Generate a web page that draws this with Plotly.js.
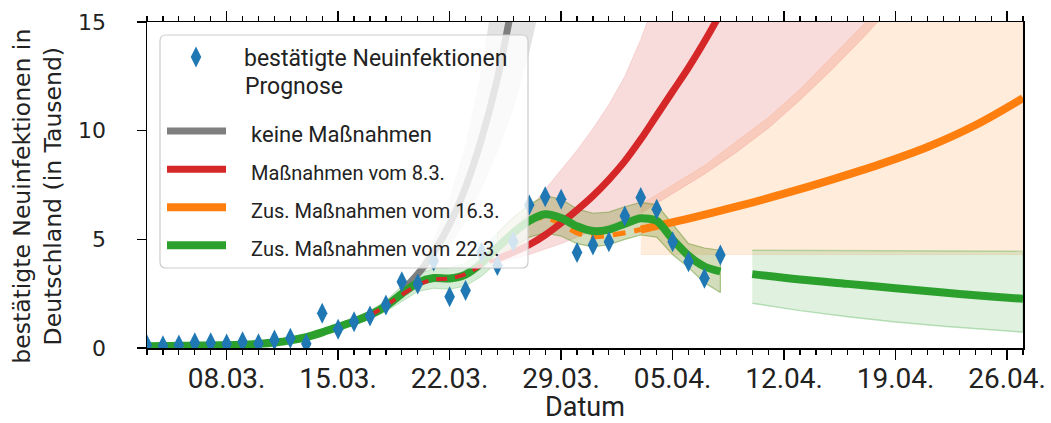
<!DOCTYPE html>
<html>
<head>
<meta charset="utf-8">
<script src="https://cdn.plot.ly/plotly-3.0.1.min.js"></script>
<style>html,body{margin:0;padding:0;background:#fff;}#chart{width:1051px;height:423px;}</style>
</head>
<body>
<div id="chart"></div>
<script>
// ---------- observed data (in thousands) ----------
const obsDates = ['2020-03-03','2020-03-04','2020-03-05','2020-03-06','2020-03-07','2020-03-08','2020-03-09','2020-03-10','2020-03-11','2020-03-12','2020-03-13','2020-03-14','2020-03-15','2020-03-16','2020-03-17','2020-03-18','2020-03-19','2020-03-20','2020-03-21','2020-03-22','2020-03-23','2020-03-24','2020-03-25','2020-03-26','2020-03-27','2020-03-28','2020-03-29','2020-03-30','2020-03-31','2020-04-01','2020-04-02','2020-04-03','2020-04-04','2020-04-05','2020-04-06','2020-04-07','2020-04-08'];
const obsCases = [0.14,0.1,0.14,0.24,0.24,0.18,0.29,0.2,0.37,0.45,0.2,1.6,0.86,1.21,1.47,1.98,3.05,2.95,4.0,2.36,2.64,4.4,3.8,4.9,6.58,6.96,6.84,4.39,4.74,4.89,6.07,6.93,6.38,4.89,3.97,3.21,4.28];

// ---------- green model fit (Zus. Maßnahmen vom 22.3.) ----------
const fitGreen     = [0.08,0.09,0.1,0.11,0.12,0.13,0.15,0.19,0.25,0.35,0.5,0.72,0.97,1.22,1.52,1.93,2.5,3.0,3.22,3.2,3.38,3.9,4.62,5.3,5.85,6.15,5.98,5.6,5.38,5.45,5.72,5.97,5.85,5.0,4.25,3.75,3.52];
const fitGreenLow  = [0.02,0.03,0.04,0.05,0.06,0.07,0.09,0.13,0.18,0.27,0.4,0.6,0.83,1.06,1.33,1.68,2.15,2.6,2.75,2.7,2.85,3.3,3.95,4.6,5.1,5.3,5.15,4.8,4.65,4.75,5.0,5.2,5.1,4.3,3.7,3.0,2.55];
const fitGreenHigh = [0.14,0.15,0.16,0.17,0.18,0.19,0.21,0.25,0.32,0.43,0.6,0.84,1.11,1.38,1.71,2.18,2.85,3.4,3.65,3.7,3.9,4.5,5.3,6.0,6.6,7.0,6.85,6.4,6.2,6.25,6.5,6.7,6.6,5.7,4.8,4.6,4.5];

// ---------- green forecast ----------
const greenFcDates = ['2020-04-10','2020-04-13','2020-04-16','2020-04-19','2020-04-22','2020-04-25','2020-04-27'];
const greenFc      = [3.4,3.15,2.95,2.75,2.55,2.37,2.26];
const greenFcHigh  = [4.5,4.49,4.48,4.47,4.46,4.45,4.45];
const greenFcLow   = [2.06,1.72,1.44,1.2,1.0,0.83,0.73];

// ---------- red model (Maßnahmen vom 8.3.) ----------
const redDashDates = ['2020-03-17','2020-03-18','2020-03-19','2020-03-20','2020-03-21','2020-03-22','2020-03-23','2020-03-24','2020-03-25'];
const redDash      = [1.5,1.95,2.45,2.9,3.15,3.2,3.4,3.8,4.1];
const redDates = ['2020-03-25','2020-03-26','2020-03-27','2020-03-28','2020-03-29','2020-03-30','2020-03-31','2020-04-01','2020-04-02','2020-04-03','2020-04-04','2020-04-05','2020-04-06','2020-04-07','2020-04-08','2020-04-09'];
const redFc    = [4.1,4.4,4.75,5.2,5.75,6.35,7.0,7.75,8.6,9.6,10.7,11.8,12.9,14.1,15.4,16.8];
const redHighDates = ['2020-03-25','2020-03-26','2020-03-27','2020-03-28','2020-03-29','2020-03-30','2020-03-31','2020-04-01','2020-04-02','2020-04-03','2020-04-04','2020-04-05'];
const redHigh      = [4.5,5.4,6.4,7.3,8.2,9.1,10.1,11.2,12.5,14.2,16.2,18.5];
const redLowDates  = ['2020-03-25','2020-03-27','2020-03-29','2020-03-31','2020-04-02','2020-04-03','2020-04-05','2020-04-07','2020-04-09','2020-04-11','2020-04-13','2020-04-15','2020-04-17','2020-04-19','2020-04-21'];
const redLow       = [3.9,4.3,4.8,5.4,5.9,6.2,7.1,8.0,9.0,10.1,11.4,12.8,14.3,15.9,17.7];

// ---------- orange model (Zus. Maßnahmen vom 16.3.) ----------
const orangeDashDates = ['2020-03-27','2020-03-28','2020-03-29','2020-03-30','2020-03-31','2020-04-01','2020-04-02','2020-04-03'];
const orangeDash      = [5.9,6.0,5.7,5.3,5.12,5.18,5.3,5.45];
const orangeDates = ['2020-04-03','2020-04-06','2020-04-09','2020-04-12','2020-04-15','2020-04-18','2020-04-21','2020-04-24','2020-04-27'];
const orangeFc    = [5.45,5.95,6.5,7.1,7.75,8.45,9.25,10.25,11.5];
const orangeHighDates = ['2020-04-03','2020-04-05','2020-04-07','2020-04-09','2020-04-11','2020-04-13','2020-04-15','2020-04-17','2020-04-19','2020-04-21','2020-04-27'];
const orangeHigh      = [6.6,7.5,8.4,9.5,10.6,11.9,13.4,14.9,16.6,18.5,25];
const orangeLowDates  = ['2020-04-03','2020-04-27'];
const orangeLow       = [4.3,4.3];

// ---------- grey model (keine Maßnahmen) ----------
const greyDates = ['2020-03-19','2020-03-20','2020-03-21','2020-03-22','2020-03-23','2020-03-24','2020-03-25','2020-03-26'];
const greyFc    = [2.62,3.4,4.4,5.7,7.4,9.6,12.4,16.1];
const greyHigh  = [2.62,3.6,5.0,6.9,9.4,12.8,17.5,24];
const greyLowDates = ['2020-03-19','2020-03-20','2020-03-21','2020-03-22','2020-03-23','2020-03-24','2020-03-25','2020-03-26','2020-03-27','2020-03-28'];
const greyLow      = [2.62,3.2,3.9,4.7,5.8,7.3,9.0,11.0,13.6,16.8];

// ---------- labels ----------
const xTitle = 'Datum';
const yTitle = 'bestätigte Neuinfektionen in&nbsp;&nbsp;&nbsp;<br>Deutschland (in Tausend)&nbsp;&nbsp;&nbsp;';
const legendNames = {
  data: 'bestätigte Neuinfektionen',
  header: 'Prognose',
  grey: 'keine Maßnahmen',
  red: 'Maßnahmen vom 8.3.',
  orange: 'Zus. Maßnahmen vom 16.3.',
  green: 'Zus. Maßnahmen vom 22.3.'
};

const COL = {blue:'#1f77b4', orange:'#ff7f0e', green:'#2ca02c', red:'#d62728', grey:'#7f7f7f'};

function band(xHi, yHi, xLo, yLo, fill, edge, ew) {
  return {
    x: xHi.concat(xLo.slice().reverse()),
    y: yHi.concat(yLo.slice().reverse()),
    type: 'scatter', mode: 'lines', fill: 'toself', fillcolor: fill,
    line: {width: ew || 0, color: edge || 'rgba(0,0,0,0)'},
    hoverinfo: 'skip', showlegend: false
  };
}

const splitIdx = 22; // 2020-03-25
const traces = [
  band(orangeHighDates, orangeHigh, orangeLowDates, orangeLow, 'rgba(255,127,14,0.15)', 'rgba(255,127,14,0.12)', 1),
  band(redHighDates, redHigh, redLowDates, redLow, 'rgba(214,39,40,0.17)', 'rgba(214,39,40,0.12)', 1),
  band(greyDates, greyHigh, greyLowDates, greyLow, 'rgba(127,127,127,0.22)'),
  band(greenFcDates, greenFcHigh, greenFcDates, greenFcLow, 'rgba(44,160,44,0.15)', 'rgba(44,160,44,0.3)', 1.5),
  band(obsDates.slice(0, splitIdx + 1), fitGreenHigh.slice(0, splitIdx + 1), obsDates.slice(0, splitIdx + 1), fitGreenLow.slice(0, splitIdx + 1), 'rgba(44,160,44,0.2)', 'rgba(44,160,44,0.25)', 1),
  band(obsDates.slice(splitIdx), fitGreenHigh.slice(splitIdx), obsDates.slice(splitIdx), fitGreenLow.slice(splitIdx), 'rgba(120,150,50,0.33)', 'rgba(100,150,40,0.5)', 1.2),
  {x: greyDates, y: greyFc, mode: 'lines', line: {color: COL.grey, width: 7, shape: 'spline'},
   name: '&nbsp;&nbsp;&nbsp;<span style="font-size:22px">' + legendNames.grey + '</span>', legend: 'legend2', legendrank: 1},
  {x: orangeDashDates, y: orangeDash, mode: 'lines', line: {color: COL.orange, width: 5, dash: '13px,9px', shape: 'spline'}, showlegend: false},
  {x: orangeDates, y: orangeFc, mode: 'lines', line: {color: COL.orange, width: 8, shape: 'spline'},
   name: '&nbsp;&nbsp;&nbsp;<span style="font-size:20px">' + legendNames.orange + '</span>', legend: 'legend2', legendrank: 3},
  {x: redDates, y: redFc, mode: 'lines', line: {color: COL.red, width: 7, shape: 'spline'},
   name: '&nbsp;&nbsp;&nbsp;<span style="font-size:20px">' + legendNames.red + '</span>', legend: 'legend2', legendrank: 2},
  {x: obsDates, y: fitGreen, mode: 'lines', line: {color: COL.green, width: 8, shape: 'spline', smoothing: 0.7},
   name: '&nbsp;&nbsp;&nbsp;<span style="font-size:20px">' + legendNames.green + '</span>', legend: 'legend2', legendrank: 4},
  {x: greenFcDates, y: greenFc, mode: 'lines', line: {color: COL.green, width: 8, shape: 'spline'}, showlegend: false},
  {x: redDashDates, y: redDash, mode: 'lines', line: {color: COL.red, width: 4, dash: '11px,8px', shape: 'spline'}, showlegend: false},
  {x: obsDates, y: obsCases, mode: 'markers', marker: {symbol: 'diamond-tall', size: 15, color: COL.blue, line: {width: 0}},
   name: legendNames.data, legend: 'legend'}
];

// plot area in pixels: left 147, right 1023, top 22, bottom 348
const W = 1051, H = 423, ML = 147, MR = 28, MT = 22, MB = 75;
const PW = W - ML - MR, PH = H - MT - MB;
const px = v => (v - ML) / PW;
const py = v => (MT + PH - v) / PH;

function roundRect(x0, y0, x1, y1, r) {
  const a = px(x0), b = px(x1), t = py(y0), u = py(y1);
  const rx = r / PW, ry = r / PH;
  return `M${a+rx},${t} L${b-rx},${t} Q${b},${t} ${b},${t-ry} L${b},${u+ry} Q${b},${u} ${b-rx},${u} L${a+rx},${u} Q${a},${u} ${a},${u+ry} L${a},${t-ry} Q${a},${t} ${a+rx},${t} Z`;
}

const layout = {
  width: W, height: H,
  margin: {l: ML, r: MR, t: MT, b: MB, pad: 0},
  paper_bgcolor: '#fff', plot_bgcolor: '#fff',
  showlegend: true,
  xaxis: {
    type: 'date', range: ['2020-03-03', '2020-04-27'],
    tickmode: 'linear', tick0: '2020-03-08', dtick: 7 * 86400000, tickformat: '%d.%m.',
    ticks: 'outside', ticklen: 10, tickwidth: 1.5, tickcolor: '#000',
    showline: true, linecolor: '#000', linewidth: 1.5, mirror: 'allticks',
    showgrid: false, zeroline: false,
    tickfont: {family: 'Roboto', size: 28, color: '#222'},
    ticklabelstandoff: -5,
    minor: {tick0: '2020-03-01', dtick: 86400000, ticks: 'outside', ticklen: 5, tickwidth: 1.2, tickcolor: '#000', showgrid: false},
    title: {text: xTitle, font: {family: 'Roboto', size: 27, color: '#222'}, standoff: 9},
    automargin: false
  },
  yaxis: {
    range: [0, 15], tickmode: 'array', tickvals: [0, 5, 10, 15],
    ticks: 'outside', ticklen: 9, tickwidth: 1.5, tickcolor: '#000',
    showline: true, linecolor: '#000', linewidth: 1.5, mirror: true,
    showgrid: false, zeroline: false,
    tickfont: {family: 'DejaVu Sans', size: 22, color: '#222'},
    ticklabelstandoff: 26,
    title: {text: yTitle, font: {family: 'DejaVu Sans', size: 23.5, color: '#222'}, standoff: 10},
    automargin: false
  },
  legend: {
    x: px(148), y: py(35.5), xanchor: 'left', yanchor: 'top',
    bgcolor: 'rgba(0,0,0,0)', borderwidth: 0,
    font: {family: 'Roboto', size: 23, color: '#222'}, itemwidth: 86
  },
  legend2: {
    x: px(162), y: py(107), xanchor: 'left', yanchor: 'top',
    bgcolor: 'rgba(0,0,0,0)', borderwidth: 0,
    font: {family: 'Roboto', size: 27, color: '#222'}, itemwidth: 59, traceorder: 'normal'
  },
  shapes: [{
    type: 'path', xref: 'paper', yref: 'paper', layer: 'above',
    path: roundRect(160, 35, 528, 268, 6),
    fillcolor: 'rgba(255,255,255,0.8)', line: {color: '#cccccc', width: 1.2}
  }],
  annotations: [{
    xref: 'paper', yref: 'paper', x: px(244), y: py(87), xanchor: 'left', yanchor: 'middle',
    text: legendNames.header, showarrow: false, borderpad: 0,
    font: {family: 'Roboto', size: 23, color: '#222'}
  }]
};

Plotly.newPlot('chart', traces, layout, {displayModeBar: false, staticPlot: true});
</script>
</body>
</html>
